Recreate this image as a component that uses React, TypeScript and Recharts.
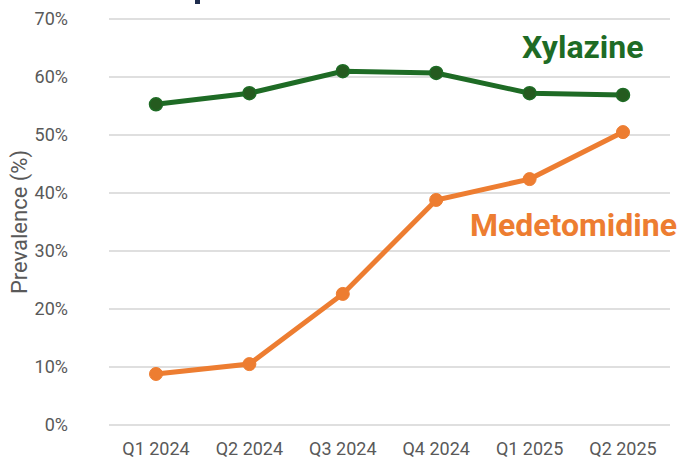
import { LineChart, Line, XAxis, YAxis, CartesianGrid } from 'recharts';

const quarters = ['Q1 2024', 'Q2 2024', 'Q3 2024', 'Q4 2024', 'Q1 2025', 'Q2 2025'];
const xylazine = [55.3, 57.2, 61.0, 60.7, 57.2, 56.9];
const medetomidine = [8.8, 10.5, 22.6, 38.8, 42.4, 50.5];
const yTicks = [0, 10, 20, 30, 40, 50, 60, 70];

const font = '"Roboto", "Liberation Sans", sans-serif';

export default function App() {
  const chartData = quarters.map((q, i) => ({
    name: q,
    xylazine: xylazine[i],
    medetomidine: medetomidine[i],
  }));

  return (
    <div style={{ position: 'absolute', left: 0, top: 0, width: 682, height: 463, background: '#fff', fontFamily: font }}>
      {/* cut-off title descender */}
      <div style={{ position: 'absolute', left: 195, top: 0, width: 5, height: 4, background: '#1f2d4d' }} />

      <LineChart width={682} height={463} data={chartData} margin={{ top: 19, right: 12, bottom: 8, left: 0 }}>
        <CartesianGrid vertical={false} stroke="#d4d4d4" strokeWidth={1.5} />
        <XAxis
          dataKey="name"
          axisLine={false}
          tickLine={false}
          tickSize={0}
          tickMargin={17}
          height={30}
          padding={{ left: 47, right: 47 }}
          tick={{ fill: '#595959', fontSize: 18, fontFamily: font }}
        />
        <YAxis
          domain={[0, 70]}
          ticks={yTicks}
          width={109}
          axisLine={false}
          tickLine={false}
          tickSize={0}
          tickMargin={41}
          tickFormatter={(v) => `${v}%`}
          tick={{ fill: '#595959', fontSize: 18, fontFamily: font }}
          label={{ value: 'Prevalence (%)', angle: -90, position: 'insideLeft', offset: 19, style: { textAnchor: 'middle', fill: '#595959', fontSize: 22, fontFamily: font } }}
        />
        <Line
          dataKey="xylazine"
          stroke="#1e6b25"
          strokeWidth={5}
          dot={{ r: 6.5, fill: '#255b1f', stroke: '#1e6b25', strokeWidth: 1.5 }}
          isAnimationActive={false}
        />
        <Line
          dataKey="medetomidine"
          stroke="#ed7d31"
          strokeWidth={5}
          dot={{ r: 6.5, fill: '#ed7d31', stroke: '#ed7d31', strokeWidth: 1 }}
          isAnimationActive={false}
        />
      </LineChart>

      <div style={{ position: 'absolute', left: 522, top: 28, color: '#1e6b25', fontSize: 32, fontWeight: 'bold', lineHeight: '38px' }}>
        Xylazine
      </div>
      <div style={{ position: 'absolute', left: 470, top: 206, color: '#ed7d31', fontSize: 32, fontWeight: 'bold', lineHeight: '38px' }}>
        Medetomidine
      </div>
    </div>
  );
}
